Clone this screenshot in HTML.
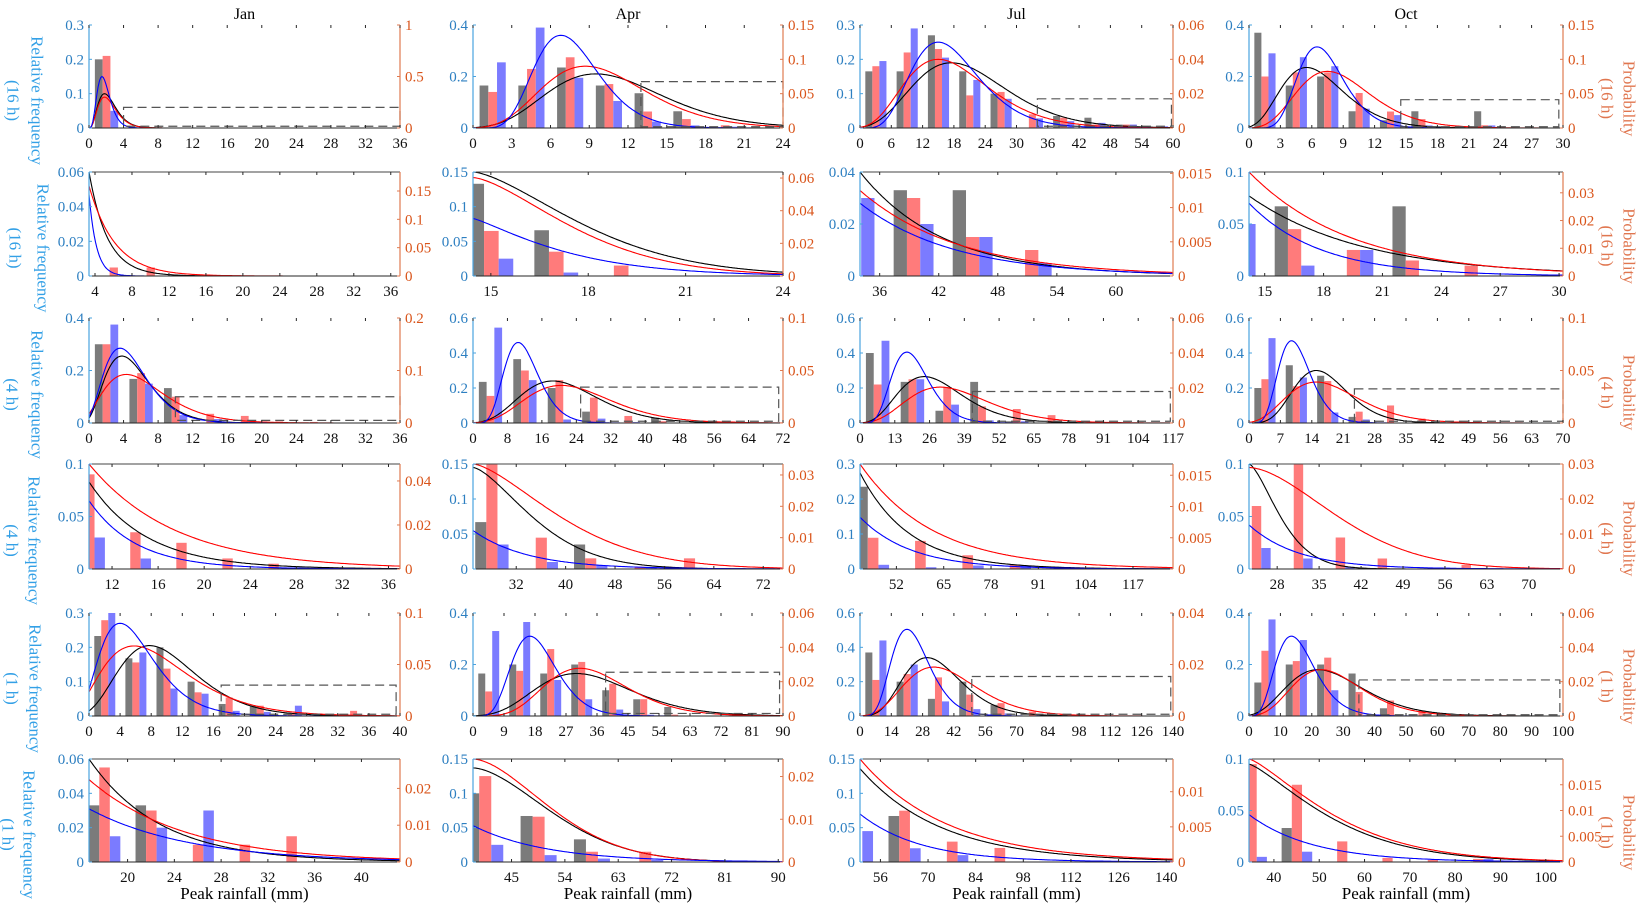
<!DOCTYPE html>
<html><head><meta charset="utf-8">
<style>
html,body{margin:0;padding:0;background:#fff;}
svg{display:block;font-family:"Liberation Serif","Times New Roman",serif;}
</style></head>
<body>
<svg id="fig" width="1642" height="912" viewBox="0 0 1642 912" xmlns="http://www.w3.org/2000/svg"></svg>
<script>
// ---------- data (panel index = row*4 + col) ----------
const months = ["Jan","Apr","Jul","Oct"];
const rowHours = ["16 h","16 h","4 h","4 h","1 h","1 h"];
const xRange = [
 [0,36],[0,24],[0,60],[0,30],
 [3.35,37],[14.45,24],[34,65.8],[14.2,30.2],
 [0,36],[0,72],[0,117],[0,70],
 [10,37],[25,75.2],[42,128],[23.3,75.7],
 [0,40],[0,90],[0,140],[0,100],
 [16.7,43.3],[38.5,90.8],[50,142],[34.5,103.8]];
const xTickLabels = [
 [0,4,8,12,16,20,24,28,32,36],[0,3,6,9,12,15,18,21,24],[0,6,12,18,24,30,36,42,48,54,60],[0,3,6,9,12,15,18,21,24,27,30],
 [4,8,12,16,20,24,28,32,36],[15,18,21,24],[36,42,48,54,60],[15,18,21,24,27,30],
 [0,4,8,12,16,20,24,28,32,36],[0,8,16,24,32,40,48,56,64,72],[0,13,26,39,52,65,78,91,104,117],[0,7,14,21,28,35,42,49,56,63,70],
 [12,16,20,24,28,32,36],[32,40,48,56,64,72],[52,65,78,91,104,117],[28,35,42,49,56,63,70],
 [0,4,8,12,16,20,24,28,32,36,40],[0,9,18,27,36,45,54,63,72,81,90],[0,14,28,42,56,70,84,98,112,126,140],[0,10,20,30,40,50,60,70,80,90,100],
 [20,24,28,32,36,40],[45,54,63,72,81,90],[56,70,84,98,112,126,140],[40,50,60,70,80,90,100]];
const yLeftMax = [0.3,0.4,0.3,0.4, 0.06,0.15,0.04,0.1, 0.4,0.6,0.6,0.6, 0.1,0.15,0.3,0.1, 0.3,0.4,0.6,0.4, 0.06,0.15,0.15,0.1];
const yLeftTicks = [
 [0,0.1,0.2,0.3],[0,0.2,0.4],[0,0.1,0.2,0.3],[0,0.2,0.4],
 [0,0.02,0.04,0.06],[0,0.05,0.1,0.15],[0,0.02,0.04],[0,0.05,0.1],
 [0,0.2,0.4],[0,0.2,0.4,0.6],[0,0.2,0.4,0.6],[0,0.2,0.4,0.6],
 [0,0.05,0.1],[0,0.05,0.1,0.15],[0,0.1,0.2,0.3],[0,0.05,0.1],
 [0,0.1,0.2,0.3],[0,0.2,0.4],[0,0.2,0.4,0.6],[0,0.2,0.4],
 [0,0.02,0.04,0.06],[0,0.05,0.1,0.15],[0,0.05,0.1,0.15],[0,0.05,0.1]];
const yRightMax = [1,0.15,0.06,0.15, 0.1835,0.0637,0.0152,0.0375, 0.2,0.1,0.06,0.1, 0.0477,0.0335,0.0168,0.03, 0.1,0.06,0.04,0.06, 0.028,0.0241,0.01465,0.02];
const yRightTicks = [
 [0,0.5,1],[0,0.05,0.1,0.15],[0,0.02,0.04,0.06],[0,0.05,0.1,0.15],
 [0,0.05,0.1,0.15],[0,0.02,0.04,0.06],[0,0.005,0.01,0.015],[0,0.01,0.02,0.03],
 [0,0.1,0.2],[0,0.05,0.1],[0,0.02,0.04,0.06],[0,0.05,0.1],
 [0,0.02,0.04],[0,0.01,0.02,0.03],[0,0.005,0.01,0.015],[0,0.01,0.02,0.03],
 [0,0.05,0.1],[0,0.02,0.04,0.06],[0,0.02,0.04],[0,0.02,0.04,0.06],
 [0,0.01,0.02],[0,0.01,0.02],[0,0.005,0.01],[0,0.005,0.01,0.015]];
const binStart = [0,0,0,0, 4,14,30.4,12, 0,0,0,0, 8,24,39,21, 0,0,0,0, 16,36,42,30];
const binWidth = [4,3,6,3, 4,2,6,3, 4,8,13,7, 4,8,13,7, 4,9,14,10, 4,9,14,10];
const grayBars = [
 [0.2],[0.165,0.165,0.235,0.165,0.135,0.065,0,0],[0.165,0.165,0.27,0.165,0.1,0,0.035,0.03,0.01,0],[0.37,0.165,0.2,0.065,0.03,0.065,0,0.065,0,0],
 [0,0],[0.133,0.066,0,0,0],[0,0.033,0.033,0,0],[0,0.067,0,0.067,0],
 [0.3,0.168,0.133,0,0,0.003],[0.235,0.365,0.2,0.065,0,0.03,0,0,0],[0.4,0.235,0.07,0.235,0.01,0,0,0,0],[0.2,0.33,0.27,0.035,0,0],
 [0,0,0,0,0],[0.067,0,0.035,0,0],[0.235,0,0,0,0,0,0],[0,0,0,0,0,0,0],
 [0.233,0.168,0.2,0.1,0.035,0.03,0,0,0,0],[0.165,0.2,0.165,0.2,0.1,0.065,0.035,0,0,0],[0.37,0.2,0.1,0.2,0.065,0,0,0,0,0],[0.13,0.2,0.2,0.165,0.03,0,0,0,0,0],
 [0.033,0.033,0,0,0,0,0],[0.1,0.067,0.033,0,0,0],[0,0.067,0,0,0,0,0],[0,0.033,0,0,0,0,0]];
const redBars = [
 [0.7],[0.0525,0.086,0.103,0.064,0.024,0.013,0.004,0],[0.036,0.044,0.046,0.019,0.021,0.008,0.006,0.002,0.002,0],[0.075,0.081,0.081,0.051,0.024,0.013,0.002,0.004,0,0],
 [0.015,0.015],[0.0276,0.0149,0.0064,0,0],[0,0.0114,0.0057,0.0038,0],[0,0.0169,0.0094,0.0056,0.00375],
 [0.15,0.095,0.05,0.0175,0.0135,0.003,0.002],[0.0258,0.05,0.0408,0.0242,0.0067,0.0017,0,0.0017,0],[0.022,0.025,0.0205,0.0095,0.008,0.0045,0,0,0],[0.0417,0.035,0.04,0.0108,0.0167,0.0042,0],
 [0.043,0.0167,0.0119,0.0048,0.0024],[0.0335,0.01,0.0034,0.0007,0.0034],[0.005,0.0045,0.0022,0.0007,0,0,0],[0.018,0.03,0.009,0.003,0,0.0012,0],
 [0.093,0.052,0.046,0.023,0.018,0.01,0.002,0,0.005,0],[0.0143,0.0263,0.039,0.0315,0.0188,0.0098,0.0008,0,0,0],[0.014,0.0163,0.015,0.0083,0.005,0.0017,0.0007,0,0,0],[0.038,0.032,0.034,0.014,0.009,0.003,0,0,0,0],
 [0.0257,0.014,0.0047,0.0047,0.007,0,0],[0.0201,0.0106,0.0024,0.0024,0,0],[0,0.0073,0.0029,0.002,0,0,0],[0.019,0.015,0.004,0.0008,0.0004,0.0006,0]];
const blueBars = [
 [0.05],[0.255,0.39,0.195,0.105,0.025,0.01,0.005,0],[0.195,0.29,0.205,0.14,0.085,0.028,0.02,0.015,0.01,0.005],[0.29,0.275,0.24,0.075,0.05,0.01,0.005,0.01,0,0],
 [0,0],[0.025,0.005,0,0,0],[0.03,0.02,0.015,0.005,0],[0.05,0.01,0.025,0,0],
 [0.375,0.15,0.03,0.015,0.005,0,0],[0.545,0.245,0.02,0.025,0.005,0,0,0,0],[0.47,0.25,0.105,0.015,0.01,0,0,0,0],[0.485,0.26,0.06,0.02,0,0],
 [0.03,0.01,0,0,0],[0.035,0.01,0.005,0.003,0],[0.012,0.005,0.01,0.01,0,0,0],[0.02,0.01,0.002,0,0,0,0],
 [0.3,0.185,0.08,0.065,0.015,0.012,0.03,0,0,0],[0.33,0.365,0.14,0.065,0.025,0.005,0,0,0,0],[0.44,0.3,0.085,0.04,0.015,0.005,0,0,0,0],[0.375,0.295,0.1,0.005,0,0,0,0,0,0],
 [0.015,0.02,0.03,0,0,0,0],[0.025,0.01,0.005,0.003,0,0],[0.045,0.02,0.01,0,0,0,0],[0.005,0.01,0,0,0,0.003,0]];
// fitted curves: odd rows [mode, peak, shape, shift]; even rows [startValue, scale, power]
const blackFit = [
 [1.8,0.1,3,0],[9.5,0.21,7.7,3],[17.5,0.19,6.25,5],[5.5,0.235,5.4,1.5],
 [0.06,2.0,1],[0.15,4.3,1.5],[0.04,8.4,1],[0.077,5.8,1],
 [3.8,0.255,3.4,1],[18.5,0.24,6.8,5],[24,0.265,5,3],[15,0.3,9,3],
 [0.083,5,1],[0.145,12.6,1.5],[0.275,13.6,1],[0.1,6.7,1.5],
 [7.8,0.205,4.7,3],[30,0.165,7.4,8],[30,0.34,6.8,4],[22,0.18,5.4,6],
 [0.06,6.05,1],[0.137,17.4,1.7],[0.136,24,1],[0.095,21.7,1.3]];
const blueFit = [
 [1.5,0.15,4,0],[6.8,0.36,7.4,0],[15,0.25,5.3,0],[6.5,0.315,8.7,0],
 [0.047,0.8,1],[0.083,3.2,1.2],[0.028,9.5,1],[0.07,3.6,1],
 [3.6,0.285,3.4,1],[10.5,0.46,6.9,0],[17.5,0.405,6.25,0],[9.5,0.47,7,0],
 [0.065,4.1,1],[0.055,8.8,1],[0.148,14,1],[0.042,8.2,1],
 [4,0.27,2.9,2],[16.5,0.31,6.4,0],[21,0.505,6.1,0],[13.5,0.31,5,0.5],
 [0.031,8.5,1],[0.053,12.3,1],[0.07,17.7,1],[0.046,14,1]];
const redFit = [
 [1.8,0.3,3,0],[8.7,0.09,7,2],[15,0.04,5,3],[7.5,0.0825,6.6,1.5],
 [0.159,2.8,1],[0.0603,3.9,1.5],[0.0125,10,1],[0.0375,5.2,1],
 [4.3,0.0925,2.75,1.5],[20.5,0.0358,6.5,5],[30,0.0205,5.4,5],[15,0.039,5.6,4],
 [0.0477,7.5,1],[0.0335,18,1.5],[0.0168,20,1],[0.029,19,1.7],
 [5.8,0.068,2.56,3],[31,0.0278,8,3],[33,0.019,5.9,6],[23,0.027,6.5,5],
 [0.0224,8.15,1],[0.0241,17,1.7],[0.01465,25.6,1],[0.02,22.5,1.3]];
// dashed tail-region markers (odd rows): [x0, x1, yLow, yHigh] in left-axis units
const insetBox = [
 [4,36,0.005,0.06],[13,24,0.005,0.18],[34,59.7,0.005,0.085],[14.5,29.6,0.005,0.11],
 null,null,null,null,
 [10,36,0.01,0.1],[25,71,0.01,0.205],[42,116,0.01,0.18],[23.5,70,0.01,0.195],
 null,null,null,null,
 [17,39.5,0.005,0.09],[38.5,89,0.01,0.17],[50,139,0.01,0.23],[35,99,0.005,0.14],
 null,null,null,null];

// ---------- layout ----------
const colLeft=[89,473,860,1249], colW=[311,310,313,314];
const rowTop=[25,172,318,464,613,759], rowH=[103,104,105,105,103,103];
const relX=[37,43,37,34,35,29], hourX=[13,15,12,12,12,8];
const NS="http://www.w3.org/2000/svg";
const svg=document.getElementById('fig');
function mk(tag,attrs,parent){const e=document.createElementNS(NS,tag);for(const k in attrs)e.setAttribute(k,attrs[k]);(parent||svg).appendChild(e);return e;}
const C_LBLUE="#2d7fc1", C_ORANGE="#d9541a", C_AXBLUE="#4aa3df";

function gammaFit(p,x){const u=(x+p[3])/(p[0]+p[3]);if(u<=0)return 0;return p[1]*Math.pow(u,p[2])*Math.exp(p[2]*(1-u));}
function tailFit(p,x,x0){const d=Math.max(0,x-x0);return p[0]*Math.exp(-Math.pow(d/p[1],p[2]));}

for(let r=0;r<6;r++){
 for(let c=0;c<4;c++){
  const i=r*4+c, L=colLeft[c], W=colW[c], T=rowTop[r], H=rowH[r], B=T+H;
  const xr=xRange[i], even=(r%2===1);
  const sx=v=>L+(v-xr[0])/(xr[1]-xr[0])*W;
  const syL=v=>B-v/yLeftMax[i]*H;
  const syR=v=>B-v/yRightMax[i]*H;
  const g=mk('g',{});
  
  
  const cp=mk('clipPath',{id:'cp'+i},g);
  mk('rect',{x:L,y:T,width:W,height:H},cp);
  const plot=mk('g',{'clip-path':'url(#cp'+i+')'},g);
  const bw=binWidth[i];
  const series=[[grayBars[i],'#7b7b7b',0.17,syL,'gray-bar'],[redBars[i],'#ff7b7b',0.395,syR,'red-bar'],[blueBars[i],'#7b7bff',0.62,syL,'blue-bar']];
  series.forEach(s=>{
   s[0].forEach((v,k)=>{
    if(v<=0)return;
    const x0=binStart[i]+k*bw+s[2]*bw;
    const a=sx(x0), b=sx(x0+0.225*bw), y=s[3](v);
    const rc=mk('rect',{x:a,y:y,width:b-a,height:B-y,fill:s[1]},plot);
    
    
   });
  });
  const ib=insetBox[i];
  if(ib){
   const bx=mk('rect',{x:sx(ib[0]),y:syL(ib[3]),width:sx(ib[1])-sx(ib[0]),height:syL(ib[2])-syL(ib[3]),fill:'none',stroke:'#555','stroke-width':1.2,'stroke-dasharray':'9,5'},g);
   
   
  }
  const fits=[[blackFit[i],'#000',syL,'black-fit-curve'],[redFit[i],'#ff0000',syR,'red-fit-curve'],[blueFit[i],'#0000ff',syL,'blue-fit-curve']];
  fits.forEach(f=>{
   let d='';
   for(let k=0;k<=240;k++){
    const x=xr[0]+(xr[1]-xr[0])*k/240;
    const v=even?tailFit(f[0],x,xr[0]):gammaFit(f[0],x);
    d+=(k?'L':'M')+sx(x).toFixed(1)+','+f[2](v).toFixed(1);
   }
   const p=mk('path',{d:d,fill:'none',stroke:f[1],'stroke-width':1.1},plot);
   
   
  });
  const bot=mk('line',{x1:L,y1:B,x2:L+W,y2:B,stroke:'#262626','stroke-width':1},g);
  
  
  if(even){
   const top=mk('line',{x1:L,y1:T,x2:L+W,y2:T,stroke:'#444','stroke-width':1},g);
   
   
  }
  const la=mk('line',{x1:L,y1:T,x2:L,y2:B,stroke:C_AXBLUE,'stroke-width':1.2},g);
  
  
  const ra=mk('line',{x1:L+W,y1:T,x2:L+W,y2:B,stroke:'#e07a50','stroke-width':1.2},g);
  
  
  xTickLabels[i].forEach(v=>{
   const x=sx(v);
   mk('line',{x1:x,y1:B,x2:x,y2:B-3,stroke:'#262626'},g);
   mk('line',{x1:x,y1:T,x2:x,y2:T+3,stroke:'#262626'},g);
   const t=mk('text',{x:x,y:B+20,'text-anchor':'middle','font-size':15,fill:'#111'},g);
   t.textContent=v;
   
   
  });
  yLeftTicks[i].forEach(v=>{
   const y=syL(v);
   mk('line',{x1:L,y1:y,x2:L+3,y2:y,stroke:C_AXBLUE},g);
   const t=mk('text',{x:L-5,y:y+5,'text-anchor':'end','font-size':15,fill:C_LBLUE},g);
   t.textContent=v;
   
   
  });
  yRightTicks[i].forEach(v=>{
   const y=syR(v);
   if(y<T-6)return;
   mk('line',{x1:L+W,y1:y,x2:L+W-3,y2:y,stroke:'#e07a50'},g);
   const t=mk('text',{x:L+W+5,y:y+5,'text-anchor':'start','font-size':15,fill:C_ORANGE},g);
   t.textContent=v;
   
   
  });
  if(r===0){
   const t=mk('text',{x:L+W/2,y:19,'text-anchor':'middle','font-size':16,fill:'#000'},g);
   t.textContent=months[c];
   
   
  }
  if(r===5){
   const t=mk('text',{x:L+W/2,y:899,'text-anchor':'middle','font-size':17,fill:'#000'},g);
   t.textContent='Peak rainfall (mm)';
   
   
  }
 }
 const cy=rowTop[r]+rowH[r]/2+24;
 const t1=mk('text',{x:relX[r],y:cy,'text-anchor':'middle','dominant-baseline':'central','font-size':17,fill:'#33a0e6',transform:'rotate(90 '+relX[r]+' '+cy+')'});
 t1.textContent='Relative frequency';
 
 
 const t2=mk('text',{x:hourX[r],y:cy,'text-anchor':'middle','dominant-baseline':'central','font-size':17,fill:'#33a0e6',transform:'rotate(90 '+hourX[r]+' '+cy+')'});
 t2.textContent='('+rowHours[r]+')';
 
 
 const pcy=rowTop[r]+rowH[r]/2+22;
 const t3=mk('text',{x:1629,y:pcy,'text-anchor':'middle','dominant-baseline':'central','font-size':17,fill:'#e0764f',transform:'rotate(90 1629 '+pcy+')'});
 t3.textContent='Probability';
 
 
 const t4=mk('text',{x:1607,y:pcy,'text-anchor':'middle','dominant-baseline':'central','font-size':17,fill:'#e0764f',transform:'rotate(90 1607 '+pcy+')'});
 t4.textContent='('+rowHours[r]+')';
 
 
}
</script>
</body></html>
